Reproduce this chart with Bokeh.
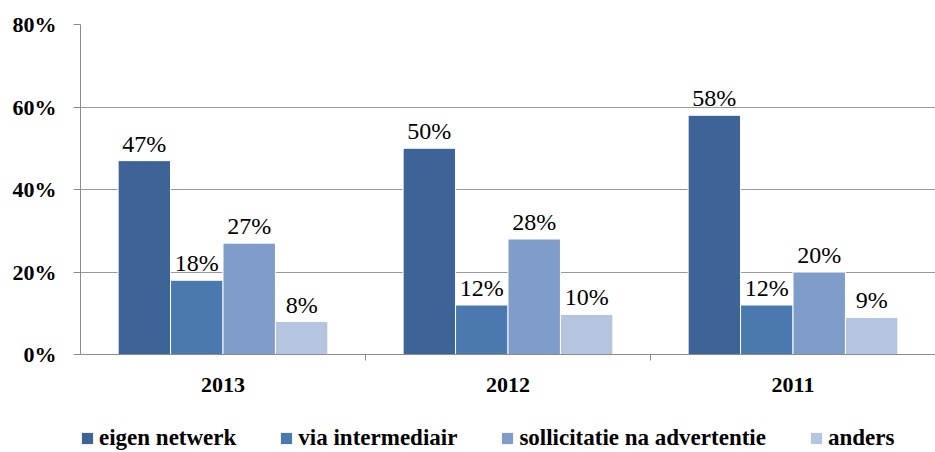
from bokeh.plotting import figure
from bokeh.models import (ColumnDataSource, Range1d, FixedTicker, NumeralTickFormatter,
                          Legend, LegendItem, Label)
from bokeh.layouts import column
from bokeh.transform import dodge
from bokeh.embed import file_html
from bokeh.resources import INLINE

years = ["2013", "2012", "2011"]
series = ["eigen netwerk", "via intermediair", "sollicitatie na advertentie", "anders"]
eigen_netwerk = [0.47, 0.50, 0.58]
via_intermediair = [0.18, 0.12, 0.12]
sollicitatie = [0.27, 0.28, 0.20]
anders = [0.08, 0.097, 0.09]
y_ticks = [0.0, 0.2, 0.4, 0.6, 0.8]

values = [eigen_netwerk, via_intermediair, sollicitatie, anders]
colors = ["#3E6497", "#4A79B0", "#7F9DC8", "#B5C4DF"]
keys = ["s0", "s1", "s2", "s3"]

centers = [i + 0.5 for i in range(len(years))]
data = {"x": centers}
for k, v in zip(keys, values):
    data[k] = v
src = ColumnDataSource(data)

FONT = "Liberation Serif"

p = figure(width=935, height=408, x_range=Range1d(0, len(years)), y_range=Range1d(0, 0.8),
           output_backend="svg", toolbar_location=None,
           min_border_left=80, min_border_right=0, min_border_top=24, min_border_bottom=54)
p.outline_line_color = None
p.title.visible = False

w = 0.184
for i, (k, c, vals) in enumerate(zip(keys, colors, values)):
    off = (-1.5 + i) * w
    p.vbar(x=dodge("x", off, range=p.x_range), top=k, width=w, source=src,
           fill_color=c, line_color="white", line_width=1)
    for xc, v in zip(centers, vals):
        p.add_layout(Label(x=xc + off, y=v, x_units="data", y_units="data",
                           text=f"{round(v * 100)}%", text_align="center",
                           text_baseline="alphabetic", y_offset=17,
                           text_font=FONT, text_font_size="24px", text_color="black"))

# axes
p.yaxis.ticker = FixedTicker(ticks=y_ticks)
p.yaxis.formatter = NumeralTickFormatter(format="0%")
p.yaxis.axis_line_color = "#8c8c8c"
p.yaxis.major_tick_line_color = "#8c8c8c"
p.yaxis.major_tick_out = 7
p.yaxis.major_tick_in = 0
p.yaxis.minor_tick_line_color = None
p.yaxis.major_label_standoff = 17
p.yaxis.major_label_text_font = FONT
p.yaxis.major_label_text_font_style = "bold"
p.yaxis.major_label_text_font_size = "22px"
p.yaxis.major_label_text_color = "black"

p.xaxis.ticker = FixedTicker(ticks=centers, minor_ticks=[1, 2])
p.xaxis.major_label_overrides = {c: y for c, y in zip(centers, years)}
p.xaxis.axis_line_color = "#8c8c8c"
p.xaxis.major_tick_line_color = None
p.xaxis.minor_tick_line_color = "#8c8c8c"
p.xaxis.minor_tick_out = 6
p.xaxis.minor_tick_in = 0
p.xaxis.major_label_standoff = 17
p.xaxis.major_label_text_font = FONT
p.xaxis.major_label_text_font_style = "bold"
p.xaxis.major_label_text_font_size = "22px"
p.xaxis.major_label_text_color = "black"

p.xgrid.grid_line_color = None
p.ygrid.ticker = FixedTicker(ticks=y_ticks[1:])
p.ygrid.grid_line_color = "#9a9a9a"
p.ygrid.grid_line_width = 1.2

# legend strip (bars drawn out of view so only the legend shows)
pl = figure(width=935, height=44, x_range=Range1d(0, len(years)), y_range=Range1d(1, 2),
            output_backend="svg", toolbar_location=None,
            x_axis_location=None, y_axis_location=None,
            min_border_left=0, min_border_right=0, min_border_top=0, min_border_bottom=0)
pl.outline_line_color = None
pl.xgrid.visible = False
pl.ygrid.visible = False
pl.title.visible = False
items = []
for i, (k, name, c) in enumerate(zip(keys, series, colors)):
    off = (-1.5 + i) * w
    r = pl.vbar(x=dodge("x", off, range=pl.x_range), top=k, width=w, source=src,
                fill_color=c, line_color=None)
    items.append(LegendItem(label=name, renderers=[r]))

legend = Legend(items=items, orientation="horizontal", location=(0, 1))
legend.label_text_font = FONT
legend.label_text_font_style = "bold"
legend.label_text_font_size = "23px"
legend.label_text_color = "black"
legend.glyph_width = 14
legend.glyph_height = 14
legend.label_standoff = 5
legend.spacing = 43
legend.padding = 0
legend.margin = 0
legend.label_height = 20
legend.border_line_color = None
legend.background_fill_alpha = 0
pl.add_layout(legend)

open("out.html", "w").write(file_html(column(p, pl, spacing=0), INLINE))
